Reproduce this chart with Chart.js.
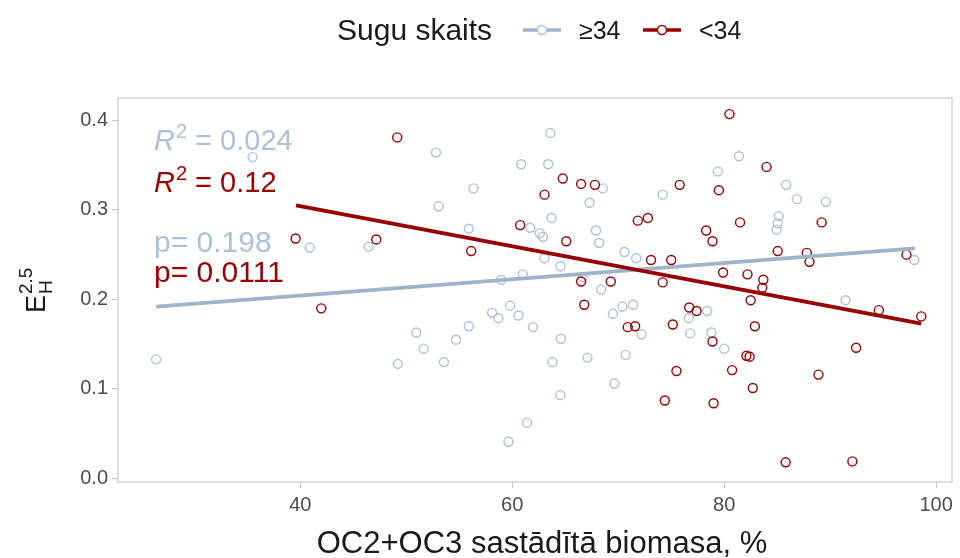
<!DOCTYPE html>
<html>
<head>
<meta charset="utf-8">
<script src="https://cdn.jsdelivr.net/npm/chart.js@4.4.1/dist/chart.umd.min.js"></script>
<style>
  html, body { margin: 0; padding: 0; background: #ffffff; }
  #wrap { width: 960px; height: 558px; position: relative; }
</style>
</head>
<body>
<div id="wrap"><canvas id="chart" width="960" height="558"></canvas></div>
<script>
// Points: OC2+OC3 planted biomass (%) vs E_H^2.5
const bigX = [26.4, 35.5, 40.9, 52.8, 60.85, 56.35, 53.05, 61.7, 62.6, 55.9, 46.45, 58.95, 61.0,
  63.6, 81.4, 63.4, 79.4, 68.55, 74.2, 67.3, 63.7, 62.9, 67.9, 68.2, 70.6, 71.7, 63.05, 64.55,
  66.65, 68.4, 85.85, 86.85, 89.6, 85.15, 85.05, 84.95, 97.95, 59.8, 58.1, 58.7, 60.6, 55.9,
  61.95, 50.95, 54.7, 51.65, 53.55, 49.2, 61.4, 59.65, 69.5, 70.4, 71.4, 78.4, 76.65, 72.2,
  76.8, 78.8, 80.0, 64.6, 63.8, 67.1, 70.7, 69.65, 64.55, 91.45];
const bigY = [0.133, 0.359, 0.258, 0.364, 0.351, 0.324, 0.304, 0.280, 0.274, 0.279, 0.259, 0.222, 0.228,
  0.386, 0.360, 0.351, 0.343, 0.324, 0.317, 0.308, 0.291, 0.270, 0.277, 0.263, 0.253, 0.246, 0.246, 0.237,
  0.225, 0.211, 0.328, 0.312, 0.309, 0.293, 0.285, 0.278, 0.244, 0.193, 0.185, 0.179, 0.182, 0.170,
  0.169, 0.163, 0.155, 0.145, 0.130, 0.128, 0.062, 0.041, 0.184, 0.192, 0.194, 0.187, 0.179, 0.161,
  0.162, 0.163, 0.145, 0.156, 0.130, 0.135, 0.138, 0.106, 0.093, 0.199];

const smallX = [49.15, 39.56, 47.17, 56.13, 60.75, 41.98, 80.5, 64.77, 66.5, 67.8, 75.8, 79.5, 63.05,
  71.85, 72.8, 81.5, 65.1, 78.3, 78.9, 73.1, 75.0, 66.5, 69.3, 74.2, 79.9, 82.2, 84.0, 89.2, 85.05,
  87.8, 88.05, 97.2, 83.7, 83.6, 66.8, 76.7, 77.4, 70.9, 71.6, 75.15, 78.9, 82.1, 75.5, 80.75, 74.4,
  79.0, 82.5, 94.6, 98.6, 82.9, 82.4, 92.45, 88.9, 82.7, 85.8, 92.1];
const smallY = [0.381, 0.268, 0.267, 0.254, 0.283, 0.190, 0.407, 0.335, 0.329, 0.328, 0.328, 0.322, 0.317,
  0.288, 0.291, 0.286, 0.265, 0.277, 0.265, 0.244, 0.244, 0.220, 0.220, 0.219, 0.230, 0.228, 0.348, 0.286,
  0.254, 0.252, 0.242, 0.250, 0.222, 0.213, 0.194, 0.191, 0.187, 0.169, 0.170, 0.172, 0.153, 0.137, 0.120,
  0.121, 0.087, 0.084, 0.199, 0.188, 0.181, 0.170, 0.136, 0.146, 0.116, 0.101, 0.018, 0.019];

// fitted lines (end points)
const bigFitX = [26.4, 98.0];
const bigFitY = [0.192, 0.257];
const smallFitX = [39.6, 98.6];
const smallFitY = [0.305, 0.173];

const xTicks = [40, 60, 80, 100];
const yTicks = [0.0, 0.1, 0.2, 0.3, 0.4];

const legendTitle = 'Sugu skaits';
const groupLabels = ['≥34', '<34'];
const r2Labels = ['0.024', '0.12'];
const pLabels = ['0.198', '0.0111'];

const BLUE = '#adc2da';
const BLUE_LINE = '#9db4cc';
const RED = '#990000';
const FONT = '"Liberation Sans", Arial, sans-serif';

const toPts = (xs, ys) => xs.map((x, i) => ({ x, y: ys[i] }));

// panel border, legend, R2/p labels and axis titles
const decor = {
  id: 'decor',
  beforeDatasetsDraw(chart) {
    const { ctx, chartArea: a } = chart;
    ctx.save();
    ctx.strokeStyle = '#d2d2d2';
    ctx.lineWidth = 1.4;
    ctx.strokeRect(a.left, a.top, a.right - a.left, a.bottom - a.top);
    ctx.restore();
  },
  afterDraw(chart) {
    const ctx = chart.ctx;
    ctx.save();
    ctx.textBaseline = 'alphabetic';

    // legend
    ctx.fillStyle = '#1a1a1a';
    ctx.font = `30px ${FONT}`;
    ctx.fillText(legendTitle, 337, 40);
    const sw = [[523, BLUE_LINE, BLUE], [643, RED, RED]];
    sw.forEach(([x0, lc, pc], i) => {
      ctx.strokeStyle = lc;
      ctx.lineWidth = 3.5;
      ctx.beginPath(); ctx.moveTo(x0, 30); ctx.lineTo(x0 + 38, 30); ctx.stroke();
      ctx.fillStyle = '#fff';
      ctx.strokeStyle = pc;
      ctx.lineWidth = 1.5;
      ctx.beginPath(); ctx.arc(x0 + 19, 30, 4.5, 0, Math.PI * 2); ctx.fill(); ctx.stroke();
      ctx.fillStyle = '#1a1a1a';
      ctx.font = `25px ${FONT}`;
      ctx.fillText(groupLabels[i], x0 + 56, 39);
    });

    // R^2 and p annotations
    const rLine = (y, col, val) => {
      ctx.fillStyle = col;
      ctx.font = `italic 29px ${FONT}`;
      ctx.fillText('R', 154, y);
      let x = 154 + ctx.measureText('R').width;
      ctx.font = `20px ${FONT}`;
      ctx.fillText('2', x + 1, y - 12);
      x += ctx.measureText('2').width + 1;
      ctx.font = `29px ${FONT}`;
      ctx.fillText(' = ' + val, x, y);
    };
    rLine(150, BLUE, r2Labels[0]);
    rLine(192, RED, r2Labels[1]);
    ctx.font = `30px ${FONT}`;
    ctx.fillStyle = BLUE;
    ctx.fillText('p= ' + pLabels[0], 154, 252);
    ctx.fillStyle = RED;
    ctx.fillText('p= ' + pLabels[1], 154, 282);

    // x axis title
    ctx.fillStyle = '#1a1a1a';
    ctx.font = `31px ${FONT}`;
    ctx.textAlign = 'center';
    ctx.fillText('OC2+OC3 sastādītā biomasa, %', 542, 553);

    // y axis title: E_H^2.5
    ctx.textAlign = 'left';
    ctx.translate(45, 313);
    ctx.rotate(-Math.PI / 2);
    ctx.font = `27px ${FONT}`;
    ctx.fillText('E', 0, 0);
    const ew = ctx.measureText('E').width;
    ctx.font = `19px ${FONT}`;
    ctx.fillText('2.5', ew + 1, -13);
    ctx.fillText('H', ew + 1, 7);
    ctx.restore();
  }
};

new Chart(document.getElementById('chart'), {
  type: 'scatter',
  data: {
    datasets: [
      {
        label: groupLabels[0],
        data: toPts(bigX, bigY),
        pointStyle: 'circle',
        pointRadius: 4.5,
        pointBorderWidth: 1.4,
        pointBackgroundColor: 'rgba(0,0,0,0)',
        pointBorderColor: BLUE,
        order: 4,
      },
      {
        label: groupLabels[1],
        data: toPts(smallX, smallY),
        pointStyle: 'circle',
        pointRadius: 4.5,
        pointBorderWidth: 1.4,
        pointBackgroundColor: 'rgba(0,0,0,0)',
        pointBorderColor: RED,
        order: 3,
      },
      {
        type: 'line',
        data: toPts(bigFitX, bigFitY),
        borderColor: BLUE_LINE,
        borderWidth: 3.8,
        pointRadius: 0,
        order: 2,
      },
      {
        type: 'line',
        data: toPts(smallFitX, smallFitY),
        borderColor: RED,
        borderWidth: 3.8,
        pointRadius: 0,
        order: 1,
      },
    ],
  },
  options: {
    responsive: false,
    animation: false,
    events: [],
    layout: { padding: { top: 98, right: 8, left: 0, bottom: 0 } },
    plugins: { legend: { display: false }, tooltip: { enabled: false } },
    scales: {
      x: {
        type: 'linear',
        min: 22.8,
        max: 101.5,
        afterBuildTicks: (s) => { s.ticks = xTicks.map(v => ({ value: v })); },
        afterFit: (s) => { s.height = 76; s.paddingLeft = 0; s.paddingRight = 0; },
        ticks: { color: '#4d4d4d', font: { family: FONT, size: 20 }, padding: 5, maxRotation: 0 },
        grid: { drawOnChartArea: false, color: '#c8c8c8', tickLength: 6, lineWidth: 1.2 },
        border: { display: false },
      },
      y: {
        min: -0.004,
        max: 0.425,
        afterBuildTicks: (s) => { s.ticks = yTicks.map(v => ({ value: v })); },
        afterFit: (s) => { s.width = 118; s.paddingTop = 0; s.paddingBottom = 0; },
        ticks: {
          color: '#4d4d4d', font: { family: FONT, size: 20 }, padding: 4,
          callback: (v) => v.toFixed(1),
        },
        grid: { drawOnChartArea: false, color: '#c8c8c8', tickLength: 6, lineWidth: 1.2 },
        border: { display: false },
      },
    },
  },
  plugins: [decor],
});
</script>
</body>
</html>
